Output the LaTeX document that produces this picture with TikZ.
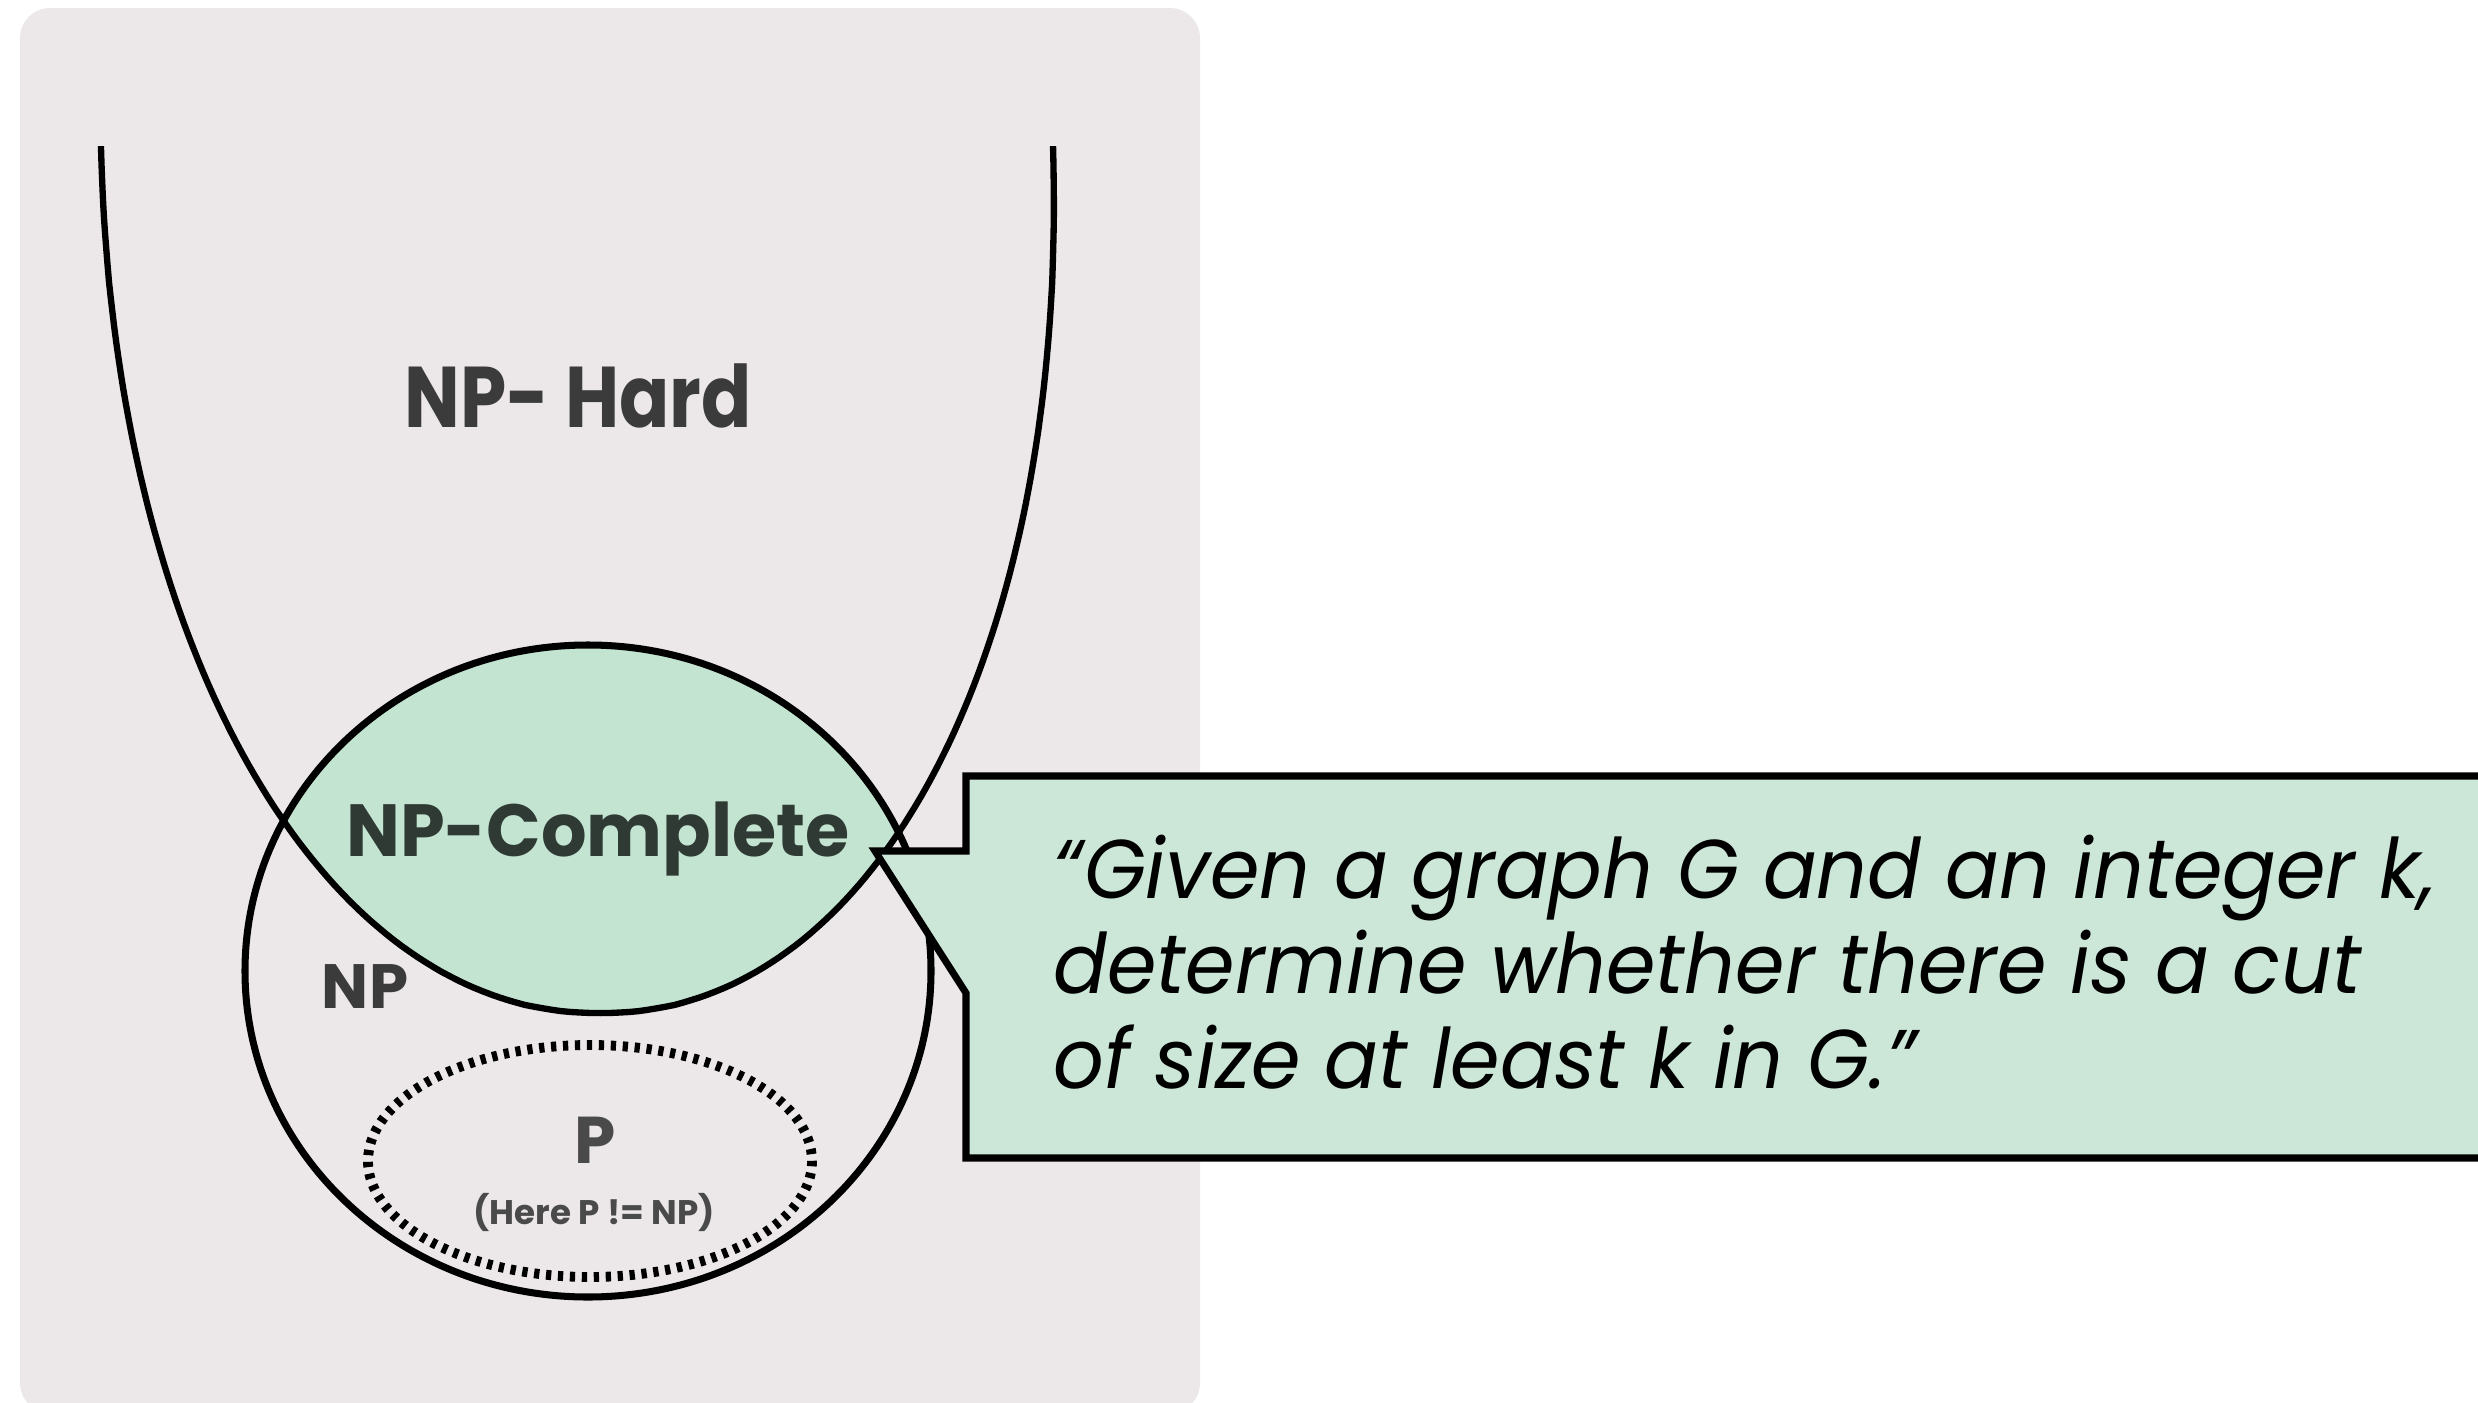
\documentclass[tikz,border=0pt]{standalone}
\usepackage{fontspec}
\setmainfont{Poppins}
\newfontfamily\hardfont{Poppins}[FakeStretch=0.86]
\newfontfamily\npcfont{Poppins}[FakeStretch=0.97]
\newfontfamily\quotefont{Poppins}[FakeStretch=0.955]
\definecolor{panelbg}{HTML}{ECE8E9}
\definecolor{npcfill}{HTML}{C3E4D1}
\definecolor{callfill}{HTML}{CCE7D7}
\definecolor{labelgray}{HTML}{3B3B3B}
\definecolor{npcgray}{HTML}{2E3A33}
\definecolor{pgray}{HTML}{4A4A4A}
\begin{document}
\begin{tikzpicture}[x=0.01cm,y=-0.01cm,
  uline/.style={line width=1.8pt, black},
  npline/.style={line width=2pt, black},
  dotline/.style={line width=2.8pt, black, dash pattern=on 1.5pt off 1.9pt},
  hardlabel/.style={font=\hardfont\bfseries\fontsize{24.5}{28}\selectfont, text=labelgray, inner sep=0pt},
  npclabel/.style={font=\npcfont\bfseries\fontsize{21}{25}\selectfont, text=npcgray, inner sep=0pt},
  nplabel/.style={font=\bfseries\fontsize{17.8}{21}\selectfont, text=labelgray, inner sep=0pt},
  plabel/.style={font=\bfseries\fontsize{18.8}{22}\selectfont, text=pgray, inner sep=0pt},
  notelabel/.style={font=\bfseries\fontsize{9.7}{11}\selectfont, text=pgray, inner sep=0pt},
  quoteline/.style={font=\quotefont\itshape\fontsize{23.7}{27}\selectfont, text=black, inner sep=0pt, anchor=base west},
  callbox/.style={line width=2pt, draw=black, fill=callfill, line join=miter}
]
\useasboundingbox (0,0) rectangle (2478,1403);
% panel
\fill[panelbg, rounded corners=0.3cm] (20,8) rectangle (1200,1413);
% NP-complete region
\begin{scope}
  \clip (588,971) ellipse [x radius=343, y radius=326];
  \fill[npcfill]
    plot[domain=0:90, samples=90] ({577+23*pow(sin(\x)+0.0001,0.952)-476*pow(cos(\x)+0.0001,0.952)},{146+867*pow(sin(\x)+0.0001,0.952)})
    -- plot[domain=90:0, samples=90] ({577+23*pow(sin(\x)+0.0001,0.952)+476*pow(cos(\x)+0.0001,0.952)},{146+867*pow(sin(\x)+0.0001,0.952)})
    -- cycle;
\end{scope}
% NP-hard U curve
\draw[uline]
    plot[domain=0:90, samples=90] ({577+23*pow(sin(\x)+0.0001,0.952)-476*pow(cos(\x)+0.0001,0.952)},{146+867*pow(sin(\x)+0.0001,0.952)})
    -- plot[domain=90:0, samples=90] ({577+23*pow(sin(\x)+0.0001,0.952)+476*pow(cos(\x)+0.0001,0.952)},{146+867*pow(sin(\x)+0.0001,0.952)});
% NP ellipse
\draw[npline] (588,971) ellipse [x radius=343, y radius=326];
% P dotted ellipse
\draw[dotline] (590,1161) ellipse [x radius=222, y radius=116];
% labels
\node[hardlabel, anchor=base] (nphard) at (578,427) {NP- Hard};
\node[npclabel, anchor=base] (npc) at (598,856) {NP-Complete};
\node[nplabel, anchor=base] (np) at (365,1008) {NP};
\node[plabel, anchor=base] (p) at (595,1163) {P};
\node[notelabel, anchor=base] (note) at (594,1224) {(Here P != NP)};
% callout
\draw[callbox] (2530,776) -- (966,776) -- (966,851) -- (875,851) -- (966,993) -- (966,1158) -- (2530,1158);
\node[quoteline] (q1) at (1053,898) {“Given a graph G and an integer k,};
\node[quoteline] (q2) at (1053,993) {determine whether there is a cut};
\node[quoteline] (q3) at (1053,1088) {of size at least k in G.”};
\end{tikzpicture}
\end{document}
